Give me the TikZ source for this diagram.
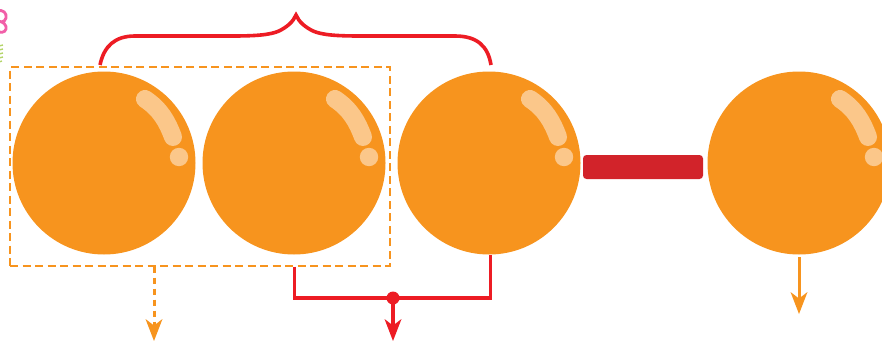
\documentclass[tikz,border=0pt]{standalone}
\usetikzlibrary{calc}
\definecolor{ballc}{HTML}{F7941E}
\definecolor{shinec}{HTML}{FBC78A}
\definecolor{redc}{HTML}{ED1C24}
\definecolor{barc}{HTML}{D2232A}
\definecolor{pinkc}{HTML}{F15FA8}
\definecolor{greenc}{HTML}{B5D56A}
\tikzset{
  ball/.style={circle,fill=ballc,draw=none,inner sep=0pt,minimum size=183pt},
  redline/.style={draw=redc,line width=3.6pt},
  orline/.style={draw=ballc,line width=3pt},
  orbox/.style={draw=ballc,line width=2.7pt,dash pattern=on 8pt off 4.5pt,inner sep=0pt,minimum width=380pt,minimum height=199pt},
  barnode/.style={fill=barc,draw=none,rounded corners=3.5pt,inner sep=0pt,minimum width=120pt,minimum height=24pt},
  dotnode/.style={circle,fill=redc,draw=none,inner sep=0pt,minimum size=13pt},
  shine/.style={draw=shinec,line width=18pt,line cap=round}
}
\newcommand{\ballat}[2]{%
  \node[ball] (#2) at (#1,163) {};
  \draw[shine] ($(#2.center)+(41,-64)$) .. controls ($(#2.center)+(56,-54)$) and ($(#2.center)+(63,-42)$) .. ($(#2.center)+(69,-26)$);
  \fill[shinec] ($(#2.center)+(75,-6)$) circle (9.2pt);
}
\newcommand{\headat}[2]{% tip coordinate, colour
  \fill[#2] (#1) -- ++(-8.5,-22) -- ++(8.5,6.5) -- ++(8.5,-6.5) -- cycle;
}
\begin{document}
\begin{tikzpicture}[x=1pt,y=-1pt]
\useasboundingbox (0,0) rectangle (882,340);
\clip (0,0) rectangle (882,340);
\fill[white] (0,0) rectangle (882,340);
% fragments at the left edge
\draw[pinkc,line width=2.8pt] (-3,11) .. controls (3,9) and (7,13) .. (6,18) .. controls (5,23) and (-1,22) .. (-3,21) .. controls (3,21) and (7,25) .. (6,29) .. controls (5,33) and (0,33) .. (-3,31);
\draw[greenc,line width=1.4pt] (-1,46) -- (3,45) (-1,50) -- (3,49) (-1,54) -- (3,53) (-1,58) -- (3,57) (-1,62) -- (2,61);
% balls
\ballat{104}{a}
\ballat{294}{b}
\ballat{489}{c}
\ballat{799}{d}
\node[barnode] (bar) at (643,167) {};
\node[orbox] (box) at (200,166.5) {};
% brace
\coordinate (bl) at (100,65);
\coordinate (br) at (491,65);
\coordinate (bt) at (296,15);
\draw[redline,miter limit=20] (bl) .. controls (104,46) and (115,36) .. (135,36)
  -- (232,36) .. controls (255,36) and (270,35) .. (279,31)
  .. controls (287,27) and (293,22) .. (bt)
  .. controls (299,22) and (305,27) .. (313,31)
  .. controls (322,35) and (337,36) .. (360,36)
  -- (455,36) .. controls (477,36) and (488,46) .. (br);
% dashed orange output
\coordinate (o1) at (154,266.5);
\coordinate (o1e) at (154,341);
\draw[orline,dash pattern=on 6.5pt off 4.5pt] (o1) -- (154,326);
\headat{o1e}{ballc}
% red join
\coordinate (r1) at (294.5,266.5);
\coordinate (r2) at (490.5,255);
\node[dotnode] (j) at (393,298) {};
\draw[redline,line join=miter] (r1) |- (j.center) -| (r2);
\coordinate (re) at (393,341);
\draw[redline] (j.center) -- (393,328);
\headat{re}{redc}
% right orange output
\coordinate (o2) at (799,257);
\coordinate (o2e) at (799,314);
\draw[orline] (o2) -- (799,300);
\headat{o2e}{ballc}
\end{tikzpicture}
\end{document}
